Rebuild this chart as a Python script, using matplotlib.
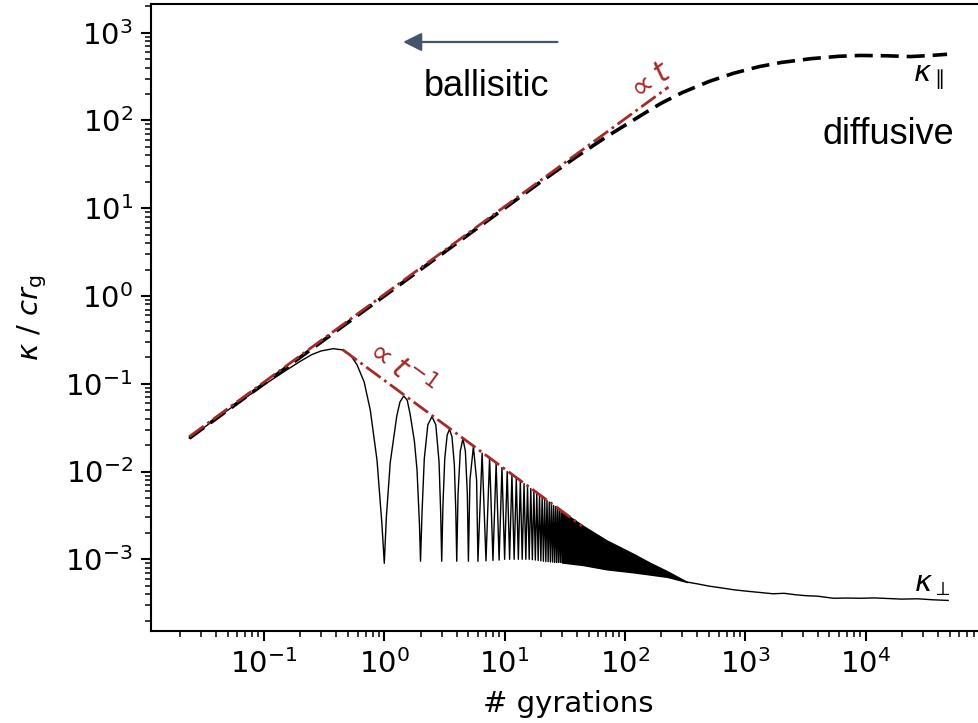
import numpy as np
import matplotlib
matplotlib.use('Agg')
import matplotlib.pyplot as plt
from matplotlib.ticker import FixedLocator, LogLocator, NullFormatter

# kappa_parallel (dashed)
kpar_x = [0.024, 1, 10, 20, 40, 70, 100, 150, 200, 300, 500, 800, 1300, 2000,
          3500, 6000, 9000, 15000, 23600, 35000, 47500]
kpar_y = [0.024, 1, 10, 20, 39, 65, 88, 124, 157, 208, 278, 345, 410, 458,
          505, 538, 550, 545, 534, 550, 567]

# kappa_perp, first lobes
kperp_x = [0.024, 0.05, 0.1, 0.15, 0.2, 0.25, 0.3, 0.377, 0.45, 0.52, 0.593, 0.68, 0.765, 0.87, 0.956, 1.0,
           1.04, 1.12, 1.27, 1.35, 1.45, 1.55, 1.64, 1.78, 1.87, 1.96, 2.0,
           2.06, 2.15, 2.3, 2.49, 2.68, 2.85, 2.94, 3.0,
           3.07, 3.18, 3.33, 3.48, 3.65, 3.82, 3.93, 4.0,
           4.1, 4.28, 4.5, 4.72, 4.9, 5.0,
           5.15, 5.5, 5.85, 6.0]
kperp_y = [0.024, 0.05, 0.097, 0.14, 0.18, 0.215, 0.237, 0.251, 0.243, 0.215, 0.165, 0.105, 0.05, 0.0135, 0.0025, 0.0009,
           0.003, 0.0126, 0.043, 0.062, 0.0726, 0.065, 0.045, 0.022, 0.0105, 0.0025, 0.00095,
           0.0035, 0.014, 0.034, 0.0423, 0.034, 0.013, 0.0035, 0.00095,
           0.004, 0.014, 0.026, 0.0303, 0.025, 0.012, 0.0035, 0.00095,
           0.0055, 0.017, 0.0237, 0.017, 0.0055, 0.00095,
           0.008, 0.0192, 0.008, 0.00095]

# narrow oscillations: tops and bottoms
peak_x = [6.5, 7.5, 8.5, 9.5, 10.5, 11.5, 12.5, 13.5, 14.5, 15.5, 16.5, 17.5,
          18.5, 19.5, 20.5, 21.5, 22.5, 23.5, 24.5, 25.5, 26.5, 27.5, 28.5, 29.5]
peak_y = [0.0162, 0.0145, 0.0124, 0.0111, 0.0100, 0.0092, 0.0084, 0.0078, 0.0073, 0.0068, 0.0064, 0.0060,
          0.0057, 0.0054, 0.0051, 0.0049, 0.0047, 0.0045, 0.0043, 0.0041, 0.0040, 0.0038, 0.0037, 0.0036]
dip_x = [7, 8, 9, 10, 11, 12, 13, 14, 15, 16, 17, 18,
         19, 20, 21, 22, 23, 24, 25, 26, 27, 28, 29, 30]
dip_y = [0.00096, 0.00097, 0.00098, 0.001, 0.001, 0.001, 0.001, 0.001, 0.001, 0.001, 0.00099, 0.00098,
         0.00097, 0.00096, 0.00095, 0.00094, 0.00094, 0.00093, 0.00093, 0.00092, 0.00092, 0.00092, 0.00092, 0.00092]

# dense part drawn as a filled band
band_x = [30, 45, 70, 118, 162, 225, 330]
band_hi = [0.0035, 0.0024, 0.00165, 0.00115, 0.00091, 0.00073, 0.00055]
band_lo = [0.00092, 0.00086, 0.00077, 0.00071, 0.00067, 0.00063, 0.00055]

# late-time tail
tail_x = [330, 400, 500, 650, 800, 1000, 1300, 1700, 2100, 2600, 3200, 4000, 5400,
          7000, 9000, 12000, 15000, 20000, 27000, 36000, 48500]
tail_y = [0.00055, 0.000525, 0.000495, 0.00047, 0.00045, 0.000435, 0.00042, 0.000405, 0.00041,
          0.000395, 0.000385, 0.00038, 0.00036, 0.000362, 0.00036, 0.000363, 0.000358, 0.000352,
          0.000355, 0.000346, 0.00034]

# power law guides
lin_x = [0.024, 230]
lin_y = [0.025, 240]
inv_x = [0.45, 44]
inv_y = [0.245, 0.0024]

xticks = [1e-1, 1e0, 1e1, 1e2, 1e3, 1e4]
yticks = [1e-3, 1e-2, 1e-1, 1e0, 1e1, 1e2, 1e3]

red = '#a52a2a'

fig = plt.figure(figsize=(9.79, 7.23), dpi=100)
ax = fig.add_axes([0.1542, 0.1277, 0.8523, 0.8661])

osc_x = np.ravel(np.column_stack([peak_x, dip_x]))
osc_y = np.ravel(np.column_stack([peak_y, dip_y]))
ax.plot(kperp_x + list(osc_x), kperp_y + list(osc_y), color='black', lw=1.0)
ax.fill_between(band_x, band_lo, band_hi, color='black', lw=1.0)
ax.plot(tail_x, tail_y, color='black', lw=1.0)

ax.plot(kpar_x, kpar_y, color='black', lw=2.6, linestyle=(0, (5, 2.2)))
ax.plot(lin_x, lin_y, color=red, lw=2.0, linestyle='-.', zorder=3)
ax.plot(inv_x, inv_y, color=red, lw=2.0, linestyle='-.', zorder=3)

ax.set_xscale('log')
ax.set_yscale('log')
ax.set_xlim(10**-1.939, 10**4.995)
ax.set_ylim(10**-3.813, 10**3.321)
ax.xaxis.set_major_locator(FixedLocator(xticks))
ax.yaxis.set_major_locator(FixedLocator(yticks))
ax.xaxis.set_minor_locator(LogLocator(base=10, subs=np.arange(2, 10), numticks=20))
ax.yaxis.set_minor_locator(LogLocator(base=10, subs=np.arange(2, 10), numticks=20))
ax.xaxis.set_minor_formatter(NullFormatter())
ax.yaxis.set_minor_formatter(NullFormatter())

for s in ax.spines.values():
    s.set_linewidth(1.5)
ax.tick_params(which='major', length=7, width=1.5, labelsize=21, pad=6)
ax.tick_params(which='minor', length=4, width=1.1)

ax.set_xlabel('# gyrations', fontsize=21, labelpad=8)
ax.set_ylabel(r'$\kappa\ /\ cr_\mathrm{g}$', fontsize=21, labelpad=12)

ax.text(160, 275, r'$\propto t$', color=red, fontsize=22, rotation=36,
        ha='center', va='center')
ax.text(1.33, 0.15, r'$\propto t^{-1}$', color=red, fontsize=22, rotation=-36,
        ha='center', va='center')
ax.text(33300, 310, r'$\kappa_\parallel$', fontsize=21, ha='center', va='center')
ax.text(35700, 5.2e-4, r'$\kappa_\perp$', fontsize=21, ha='center', va='center')

ax.text(7.05, 190, 'ballisitic', fontsize=26, family='Liberation Sans',
        ha='center', va='baseline')
ax.text(15300, 53.5, 'diffusive', fontsize=26, family='Liberation Sans',
        ha='center', va='baseline')
ax.annotate('', xy=(1.36, 783), xytext=(29, 783),
            arrowprops=dict(arrowstyle='-|>', color='#44546a', lw=1.6, mutation_scale=28))

plt.savefig('out.png', dpi=100)
